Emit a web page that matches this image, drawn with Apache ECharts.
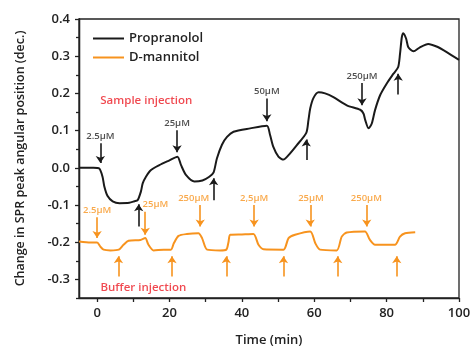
<!DOCTYPE html>
<html>
<head>
<meta charset="utf-8">
<script src="https://cdn.jsdelivr.net/npm/echarts@6/dist/echarts.min.js"></script>
<style>
  html, body { margin: 0; padding: 0; background: #fff; }
  #main { width: 475px; height: 352px; }
</style>
</head>
<body>
<div id="main"></div>
<script>
// Propranolol trace (black)
const propTime = [-5, -3, -1, 0.6, 1.5, 2.0, 2.9, 4.3, 6.2, 8.9, 10.3, 11.2, 12.1, 12.6, 13.5, 14.9, 17.2, 20.0, 22.2,
  23.2, 24.6, 26.9, 29.1, 31.0, 32.2, 33.1, 34.5, 35.9, 37.7, 42.3, 46.9, 47.8, 48.7, 50.1, 51.5, 52.9, 55.2, 57.8,
  58.4, 58.9, 59.8, 61.2, 63.0, 65.3, 69.0, 72.7, 73.6, 74.1, 75.0, 75.9, 76.8, 78.2, 80.0, 81.9, 83.2, 83.7, 84.2,
  84.6, 85.4, 86.0, 87.4, 89.2, 91.5, 93.8, 96.6, 100];
const propValue = [0.000, 0.000, 0.000, -0.002, -0.024, -0.050, -0.076, -0.090, -0.095, -0.094, -0.090, -0.087, -0.064,
  -0.042, -0.024, -0.006, 0.007, 0.020, 0.030, 0.007, -0.020, -0.037, -0.034, -0.024, -0.012, 0.025, 0.062, 0.083,
  0.097, 0.106, 0.113, 0.088, 0.056, 0.030, 0.022, 0.034, 0.061, 0.094, 0.128, 0.160, 0.188, 0.203, 0.200, 0.190,
  0.168, 0.156, 0.146, 0.128, 0.106, 0.119, 0.155, 0.195, 0.226, 0.253, 0.271, 0.306, 0.351, 0.362, 0.347, 0.324,
  0.313, 0.324, 0.333, 0.326, 0.311, 0.290];

// D-mannitol trace (orange)
const mannTime = [-5, -1.8, 0, 0.9, 1.8, 3.7, 6.0, 7.3, 8.7, 12.0, 13.3, 14.2, 15.6, 18.4, 20.4, 21.2, 22.5, 24.8, 28.0,
  29.0, 30.4, 34.0, 35.7, 36.3, 36.8, 40.0, 43.2, 44.6, 46.0, 51.5, 52.9, 54.7, 58.9, 60.3, 61.6, 66.2, 67.6, 69.0,
  74.0, 75.4, 76.8, 82.3, 83.7, 85.1, 87.9];
const mannValue = [-0.198, -0.201, -0.201, -0.212, -0.220, -0.222, -0.220, -0.207, -0.196, -0.194, -0.189, -0.207,
  -0.222, -0.220, -0.220, -0.203, -0.183, -0.178, -0.176, -0.189, -0.220, -0.222, -0.220, -0.200, -0.180, -0.179,
  -0.178, -0.207, -0.219, -0.220, -0.189, -0.180, -0.171, -0.203, -0.220, -0.222, -0.185, -0.174, -0.171, -0.194,
  -0.207, -0.207, -0.185, -0.176, -0.173];

// injection arrows: [x, from, to] and labels
const sampleDown = [[0.9, 0.066, 0.013], [22.1, 0.101, 0.042], [46.9, 0.186, 0.125], [73.2, 0.228, 0.168]];
const sampleLabels = ['2.5µM', '25µM', '50µM', '250µM'];
const sampleUp = [[11.5, -0.158, -0.098], [32.2, -0.087, -0.028], [57.8, 0.021, 0.076], [83.2, 0.197, 0.253]];
const bufferDown = [[0, -0.133, -0.189], [13.3, -0.118, -0.180], [28.5, -0.100, -0.158],
  [43.4, -0.100, -0.158], [58.9, -0.100, -0.158], [74.5, -0.100, -0.158]];
const bufferLabelX = [0, 16.1, 26.7, 43.4, 59.1, 74.4];
const bufferLabels = ['2.5µM', '25µM', '250µM', '2,5µM', '25µM', '250µM'];
const bufferUpX = [5.9, 20.7, 35.7, 51.5, 66.5, 82.8];
const bufferUpRange = [-0.292, -0.238];

const xTicks = [0, 10, 20, 30, 40, 50, 60, 70, 80, 90, 100];
const xLabels = [0, 20, 40, 60, 80, 100];
const yTicks = [-0.3, -0.2, -0.1, 0, 0.1, 0.2, 0.3, 0.4];
const yMinorTicks = [-0.35, -0.25, -0.15, -0.05, 0.05, 0.15, 0.25, 0.35];

const BLACK = '#1a1a1a';
const ORANGE = '#f7931e';
const RED = '#ec1c24';
const FONT = 'Open Sans';

let chart = echarts.init(document.getElementById('main'));

const zip = (a, b) => a.map((v, i) => [v, b[i]]);
const arrowData = arr => arr.map(a => ({ coords: [[a[0], a[1]], [a[0], a[2]]] }));

let option = {
  animation: false,
  textStyle: { fontFamily: FONT },
  grid: {
    left: 79, top: 19, right: 16, bottom: 53,
    show: true, borderColor: '#222', borderWidth: 1.3, backgroundColor: 'transparent'
  },
  legend: {
    orient: 'vertical',
    left: 88, top: 26,
    icon: 'rect',
    itemWidth: 31, itemHeight: 2, itemGap: 4,
    data: ['Propranolol', 'D-mannitol'],
    textStyle: { fontFamily: FONT, fontSize: 13, fontWeight: 600, color: '#222', lineHeight: 15 }
  },
  xAxis: {
    type: 'value',
    min: -5, max: 100,
    name: 'Time (min)',
    nameLocation: 'middle',
    nameGap: 36,
    nameTextStyle: { fontFamily: FONT, fontSize: 13, fontWeight: 600, color: '#222' },
    axisLine: { onZero: false, lineStyle: { color: '#222', width: 1.3 } },
    axisTick: { customValues: xTicks, length: 4, lineStyle: { color: '#222', width: 1.3 } },
    axisLabel: { customValues: xLabels, margin: 9, fontFamily: FONT, fontSize: 13, fontWeight: 600, color: '#222' },
    splitLine: { show: false }
  },
  yAxis: [{
    type: 'value',
    min: -0.35, max: 0.4,
    name: 'Change in SPR peak angular position (dec.)',
    nameLocation: 'middle',
    nameGap: 52,
    nameTextStyle: { fontFamily: FONT, fontSize: 12.5, fontWeight: 600, color: '#222' },
    axisLine: { show: true, onZero: false, lineStyle: { color: '#222', width: 1.3 } },
    axisTick: { show: true, customValues: yTicks, length: 4, lineStyle: { color: '#222', width: 1.3 } },
    axisLabel: {
      customValues: yTicks, margin: 9, fontFamily: FONT, fontSize: 13, fontWeight: 600, color: '#222',
      formatter: v => v.toFixed(1)
    },
    splitLine: { show: false }
  }, {
    type: 'value',
    position: 'left',
    min: -0.35, max: 0.4,
    axisLine: { show: true, onZero: false, lineStyle: { color: '#222', width: 1.3 } },
    axisTick: { show: true, customValues: yMinorTicks, length: 3, lineStyle: { color: '#222', width: 1.3 } },
    axisLabel: { show: false, customValues: yMinorTicks },
    splitLine: { show: false }
  }],
  series: [
    {
      name: 'Propranolol',
      type: 'line',
      data: zip(propTime, propValue),
      smooth: 0.25,
      symbol: 'none',
      lineStyle: { color: BLACK, width: 2 },
      itemStyle: { color: BLACK },
      z: 5
    },
    {
      name: 'D-mannitol',
      type: 'line',
      data: zip(mannTime, mannValue),
      smooth: 0.25,
      symbol: 'none',
      lineStyle: { color: ORANGE, width: 2 },
      itemStyle: { color: ORANGE },
      z: 5
    },
    {
      type: 'lines',
      coordinateSystem: 'cartesian2d',
      data: arrowData(sampleDown.concat(sampleUp)),
      symbol: ['none', 'arrow'],
      symbolSize: 7,
      lineStyle: { color: BLACK, width: 1.6, opacity: 1 },
      z: 4
    },
    {
      type: 'lines',
      coordinateSystem: 'cartesian2d',
      data: arrowData(bufferDown.concat(bufferUpX.map(x => [x, bufferUpRange[0], bufferUpRange[1]]))),
      symbol: ['none', 'arrow'],
      symbolSize: 7,
      lineStyle: { color: ORANGE, width: 1.6, opacity: 1 },
      z: 4
    },
    {
      type: 'scatter',
      symbolSize: 0,
      data: sampleDown.map((a, i) => ({ value: [a[0], a[1]], name: sampleLabels[i] })),
      label: {
        show: true, position: 'top', distance: 2, formatter: '{b}',
        fontFamily: FONT, fontSize: 9.5, fontWeight: 600, color: '#222'
      },
      silent: true
    },
    {
      type: 'scatter',
      symbolSize: 0,
      data: bufferDown.map((a, i) => ({ value: [bufferLabelX[i], a[1]], name: bufferLabels[i] })),
      label: {
        show: true, position: 'top', distance: 2, formatter: '{b}',
        fontFamily: FONT, fontSize: 9.5, fontWeight: 600, color: ORANGE
      },
      silent: true
    },
    {
      type: 'scatter',
      symbolSize: 0,
      data: [
        { value: [13.6, 0.181], name: 'Sample injection' },
        { value: [12.8, -0.322], name: 'Buffer injection' }
      ],
      label: {
        show: true, position: 'inside', formatter: '{b}',
        fontFamily: FONT, fontSize: 11.5, fontWeight: 600, color: RED
      },
      silent: true
    }
  ]
};

chart.setOption(option);
</script>
</body>
</html>
